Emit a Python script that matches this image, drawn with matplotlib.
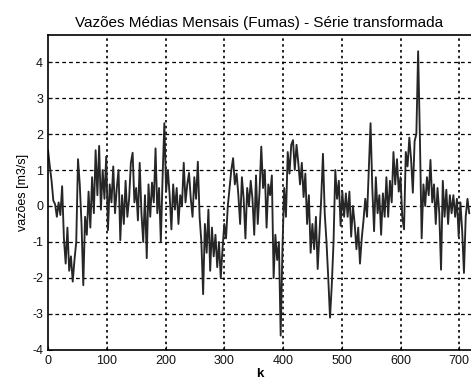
import numpy as np
import matplotlib
matplotlib.use("Agg")
import matplotlib.pyplot as plt

# série transformada (passo de 3 meses)
k_passo = 3
vazoes = [
    1.55, 1.1, 0.7, 0.15, 0.05, -0.3, 0.1, -0.25, 0.55, -0.9,
    -1.6, -0.6, -1.8, -1.4, -2.1, -1.5, -1.0, 1.3, 0.6, -0.5,
    -2.2, -0.3, -0.8, 0.4, -0.6, 0.8, -0.2, 1.55, 0.3, 1.67,
    -0.1, 1.0, 0.2, 1.37, -0.67, 0.6, 0.1, 1.1, -0.2, 0.5,
    1.0, -0.95, 0.3, -0.5, 0.7, -0.3, 0.2, 1.2, 1.48, 0.1,
    0.5, -0.4, 1.2, -0.2, -1.0, 0.3, -1.45, 0.6, -0.3, 0.65,
    0.1, 1.6, -0.2, 0.5, -1.0, 0.8, 2.3, 0.4, 1.0, 0.3,
    -0.65, 0.6, -0.1, 0.5, -0.5, 0.3, 0.0, 1.2, 0.1, 0.6,
    0.92, 0.2, -0.3, 0.8, 0.2, 1.23, -0.3, -1.0, -2.45, -0.5,
    -1.3, -0.1, -1.8, -0.6, -1.4, -0.8, -1.7, -1.0, -2.0, -1.2,
    -0.5, -0.9, 0.0, 0.5, 1.0, 1.33, 0.6, 0.9, 0.3, -0.5,
    0.8, 0.2, -0.9, 0.5, 0.0, 0.7, 0.2, -0.8, 0.85, -0.5,
    0.4, 1.65, 0.5, 1.0, -0.6, 0.6, 0.3, 0.85, -2.0, -0.8,
    -1.5, -1.0, -3.6, -1.2, 0.5, -0.3, 1.5, 0.9, 1.7, 1.83,
    1.0, 1.7, 1.2, 0.6, 1.2, 0.25, 0.9, -0.5, 0.3, -1.3,
    -0.5, -1.2, -0.3, -1.75, -0.8, 0.2, 1.45, -0.2, -1.0, -2.0,
    -3.1, -2.2, -1.0, 1.0, 0.2, 0.7, -0.55, 0.4, -0.3, 0.35,
    -0.3, 0.4, -0.85, 0.0, -0.5, -1.2, -0.6, -1.6, -0.9, -0.4,
    0.2, -0.3, 1.0, 2.3, 0.5, -0.7, 0.8, -0.2, 0.3, -0.8,
    0.35, -0.3, 0.8, -0.3, 0.7, 0.1, 1.5, 0.6, 1.3, 0.4,
    0.8, -0.3, -0.65, 1.5, 1.1, 1.9, 1.3, 0.37, 1.8, 2.0,
    4.3, 1.9, -0.9, 0.6, 0.0, 0.8, 0.3, 1.28, 0.1, 0.6,
    -0.5, 0.5, -0.2, -1.77, 0.7, -0.3, 0.45, -0.5, 0.3, -0.2,
    0.3, -0.3, 0.2, -0.85, 0.1, -0.7, -1.86, -0.3, 0.2, -0.2,
]
k = np.arange(len(vazoes)) * k_passo

xticks = [0, 100, 200, 300, 400, 500, 600, 700]
yticks = [-4, -3, -2, -1, 0, 1, 2, 3, 4]

plt.rcParams["font.family"] = ["Liberation Sans", "DejaVu Sans"]
plt.rcParams["axes.unicode_minus"] = False

fig = plt.figure(figsize=(4.71, 3.85), dpi=100)
ax = fig.add_axes([0.102, 0.091, 0.898, 0.818])

ax.plot(k, vazoes, color="#262626", linewidth=1.35)

ax.set_xlim(0, 720)
ax.set_ylim(-4, 4.75)
ax.set_xticks(xticks)
ax.set_yticks(yticks)
ax.tick_params(direction="in", length=3, labelsize=9, colors="#111111")

# grade pontilhada estilo MATLAB
for y in yticks[1:]:
    ax.axhline(y, color="black", linestyle=(0, (3, 2.5)), linewidth=0.9, zorder=0)
for x in xticks[1:]:
    ax.axvline(x, color="black", linestyle=(0, (1.5, 2)), linewidth=1.2, zorder=0)

ax.spines["right"].set_visible(False)
for s in ["left", "top", "bottom"]:
    ax.spines[s].set_linewidth(1.2)

ax.set_title("Vazões Médias Mensais (Fumas) - Série transformada", fontsize=11, pad=6)
ax.set_xlabel("k", fontsize=9.5, fontweight="bold", labelpad=1)
ax.set_ylabel("vazões [m3/s]", fontsize=9, labelpad=2)

fig.savefig("out.png", dpi=100)
